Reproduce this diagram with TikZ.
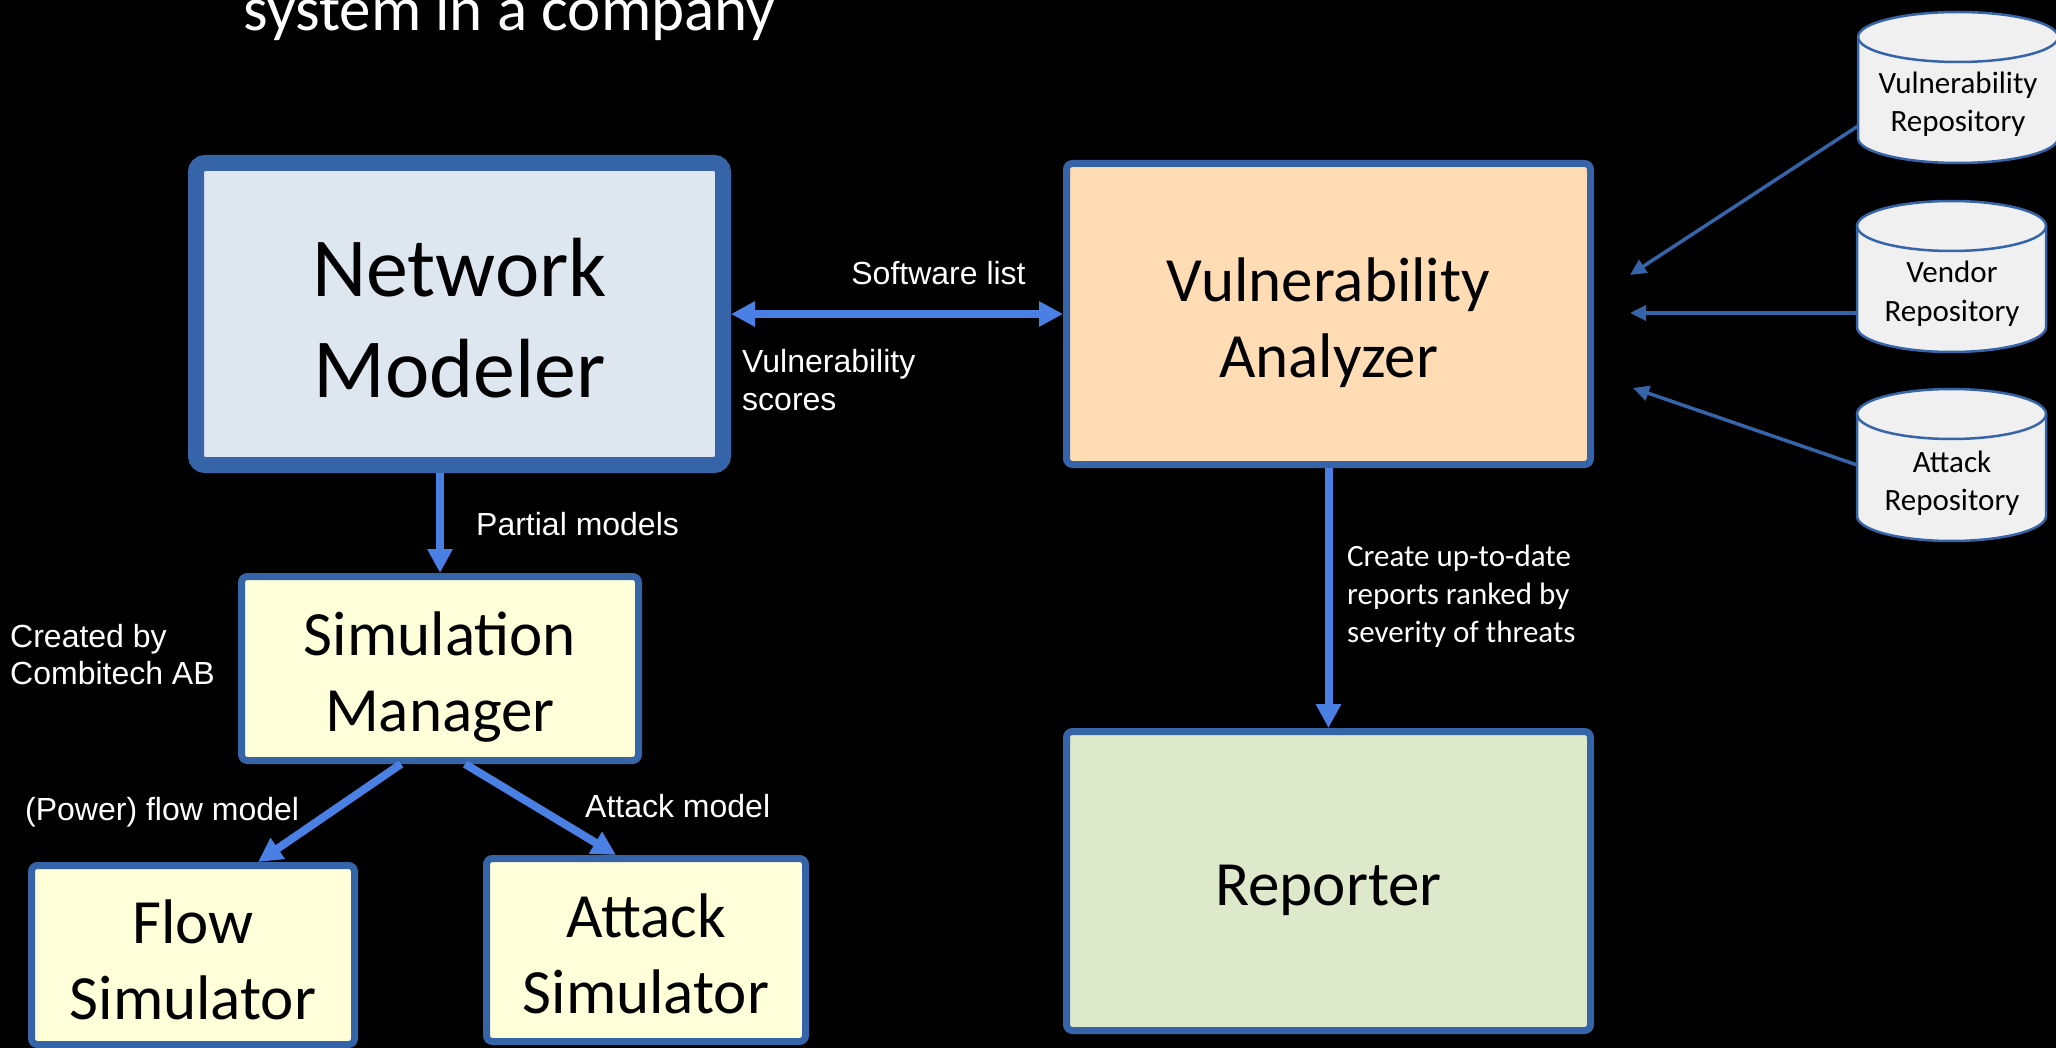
\documentclass[tikz,border=0pt]{standalone}
\usepackage{fontspec}
\setmainfont{Carlito}
\newfontfamily\arialfont{Liberation Sans}
\usetikzlibrary{arrows.meta,calc}

\definecolor{bordblue}{RGB}{54,100,168}
\definecolor{flowblue}{RGB}{74,128,228}
\definecolor{modelfill}{RGB}{222,230,240}
\definecolor{analyzefill}{RGB}{255,220,180}
\definecolor{reportfill}{RGB}{222,232,203}
\definecolor{simfill}{RGB}{255,255,217}
\definecolor{drumfill}{RGB}{240,240,240}

% multi-line text whose base anchor is the first baseline
\newcommand\ctrlines[1]{\begin{tabular}[t]{@{}c@{}}#1\end{tabular}}
\newcommand\leftlines[1]{\begin{tabular}[t]{@{}l@{}}#1\end{tabular}}

\begin{document}
\begin{tikzpicture}[x=1pt,y=1pt,
  box/.style={draw=bordblue, line width=7pt, rounded corners=6pt, inner sep=0pt},
  boxtext/.style={text=black, inner sep=0pt, anchor=base},
  huge/.style={font=\fontsize{84}{101}\selectfont},
  big/.style={font=\fontsize{63}{76}\selectfont},
  small/.style={font=\fontsize{31}{38.4}\selectfont},
  note/.style={text=white, inner sep=0pt, font=\arialfont\fontsize{32}{37.5}\selectfont},
  cnote/.style={text=white, inner sep=0pt, font=\fontsize{31}{38}\selectfont},
  drum/.style={draw=bordblue, line width=2.5pt, fill=drumfill},
  flow/.style={draw=flowblue, line width=8pt, -{Triangle[length=24pt,width=24pt]}},
  feed/.style={draw=bordblue, line width=3.5pt, -{Triangle[length=16pt,width=15pt]}}]

\useasboundingbox[fill=black] (0,0) rectangle (2056,-1048);

% heading (last line of it)
\node[text=white, inner sep=0pt, anchor=base, font=\fontsize{63}{76}\selectfont]
  (title) at (509.5,-31) {system in a company};

% main blocks
\node[box, line width=16pt, rounded corners=9pt, fill=modelfill,
  minimum width=527, minimum height=302] (NM) at (459.5,-314) {};
\node[box, fill=analyzefill, minimum width=524, minimum height=301] (VA) at (1328.5,-314) {};
\node[box, fill=reportfill, minimum width=524, minimum height=299] (RP) at (1328.5,-881) {};
\node[box, fill=simfill, minimum width=397, minimum height=184] (SM) at (440,-668.5) {};
\node[box, fill=simfill, minimum width=323, minimum height=179] (FS) at (193,-955) {};
\node[box, fill=simfill, minimum width=319, minimum height=183] (AS) at (646,-950) {};

\node[boxtext, huge] (NMt) at (459.5,-297) {\ctrlines{Network\\Modeler}};
\node[boxtext, big] (VAt) at (1328.5,-302) {\ctrlines{Vulnerability\\Analyzer}};
\node[boxtext, big] (RPt) at (1328.5,-905) {Reporter};
\node[boxtext, big] (SMt) at (440,-655) {\ctrlines{Simulation\\Manager}};
\node[boxtext, big] (FSt) at (193,-943) {\ctrlines{Flow\\Simulator}};
\node[boxtext, big] (ASt) at (646,-937) {\ctrlines{Attack\\Simulator}};

% repositories
\filldraw[drum] (1858,-37) -- (1858,-138)
  arc[start angle=180, end angle=360, x radius=100, y radius=25] -- (2058,-37)
  arc[start angle=0, end angle=180, x radius=100, y radius=25] -- cycle;
\draw[drum, fill=none] (1858,-37) arc[start angle=180, end angle=360, x radius=100, y radius=25];
\filldraw[drum] (1857,-226) -- (1857,-327)
  arc[start angle=180, end angle=360, x radius=94.5, y radius=25] -- (2046,-226)
  arc[start angle=0, end angle=180, x radius=94.5, y radius=25] -- cycle;
\draw[drum, fill=none] (1857,-226) arc[start angle=180, end angle=360, x radius=94.5, y radius=25];
\filldraw[drum] (1857,-414) -- (1857,-516)
  arc[start angle=180, end angle=360, x radius=94.5, y radius=25] -- (2046,-414)
  arc[start angle=0, end angle=180, x radius=94.5, y radius=25] -- cycle;
\draw[drum, fill=none] (1857,-414) arc[start angle=180, end angle=360, x radius=94.5, y radius=25];

\node[boxtext, small] (VRt) at (1958,-93.3) {\ctrlines{Vulnerability\\Repository}};
\node[boxtext, small] (VDt) at (1952,-283) {\ctrlines{Vendor\\Repository}};
\node[boxtext, small] (ATt) at (1952,-472.5) {\ctrlines{Attack\\Repository}};

\coordinate (VRout) at (1858,-126);
\coordinate (VDout) at (1857,-313);
\coordinate (ATout) at (1857,-465);
\coordinate (VRin) at (1630,-275);
\coordinate (VDin) at (1630,-313);
\coordinate (ATin) at (1633,-388);

% connectors
\draw[flow, {Triangle[length=24pt,width=24pt]}-{Triangle[length=24pt,width=24pt]}]
  (NM.east) -- (VA.west);
\draw[flow] (SM.north |- NM.south) -- (SM.north);
\draw[flow] (VA.south) -- (RP.north);
\draw[flow] ($(SM.south)+(-39,0)$) -- ($(FS.north)+(65,0)$);
\draw[flow] ($(SM.south)+(25,0)$) -- ($(AS.north)+(-30,0)$);

\draw[feed] (VRout) -- (VRin);
\draw[feed] (VDout) -- (VDin);
\draw[feed] (ATout) -- (ATin);

% connector labels
\node[note, anchor=base] (swl) at (938.5,-285) {Software list};
\node[note, anchor=base west] (vsc) at (742,-373) {\leftlines{Vulnerability\\scores}};
\node[note, anchor=base west] (pmd) at (476,-535) {Partial models};
\node[note, anchor=base west] (cby) at (10,-647) {\leftlines{Created by\\Combitech AB}};
\node[note, anchor=base west] (pfm) at (25,-820) {(Power) flow model};
\node[note, anchor=base west] (atm) at (585,-817) {Attack model};
\node[cnote, anchor=base west] (rep) at (1347,-566)
  {\leftlines{Create up-to-date\\reports ranked by\\severity of threats}};

\end{tikzpicture}
\end{document}
